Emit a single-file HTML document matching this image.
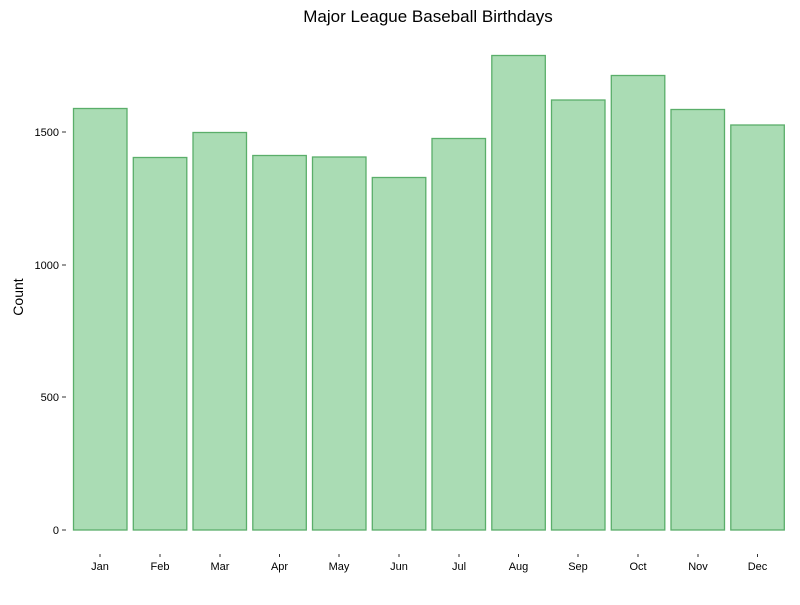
<!DOCTYPE html>
<html><head><style>body{margin:0;background:#fff}</style></head><body>
<svg width="800" height="600" xmlns="http://www.w3.org/2000/svg" font-family="Liberation Sans, sans-serif">
<rect width="800" height="600" fill="#fff"/>
<text x="428" y="22" font-size="17" text-anchor="middle">Major League Baseball Birthdays</text>
<text x="23" y="297" font-size="14" text-anchor="middle" transform="rotate(-90 23 297)">Count</text>
<g font-size="11" text-anchor="end">
<text x="59" y="534">0</text><line x1="62" y1="530" x2="66" y2="530" stroke="#333"/>
<text x="59" y="401">500</text><line x1="62" y1="397" x2="66" y2="397" stroke="#333"/>
<text x="59" y="269">1000</text><line x1="62" y1="265" x2="66" y2="265" stroke="#333"/>
<text x="59" y="136">1500</text><line x1="62" y1="132" x2="66" y2="132" stroke="#333"/>
</g>
<g fill="#aadcb4" stroke="#5aae6a" stroke-width="1.3">
<rect x="73.5" y="108.5" width="53.5" height="421.5"/>
<rect x="133.3" y="157.5" width="53.5" height="372.5"/>
<rect x="193" y="132.5" width="53.5" height="397.5"/>
<rect x="252.8" y="155.5" width="53.5" height="374.5"/>
<rect x="312.5" y="157" width="53.5" height="373"/>
<rect x="372.3" y="177.5" width="53.5" height="352.5"/>
<rect x="432" y="138.5" width="53.5" height="391.5"/>
<rect x="491.8" y="55.5" width="53.5" height="474.5"/>
<rect x="551.5" y="100" width="53.5" height="430"/>
<rect x="611.3" y="75.5" width="53.5" height="454.5"/>
<rect x="671" y="109.5" width="53.5" height="420.5"/>
<rect x="730.8" y="125" width="53.5" height="405"/>
</g>
<g font-size="11" text-anchor="middle">
<text x="100" y="570">Jan</text><text x="160" y="570">Feb</text><text x="220" y="570">Mar</text>
<text x="279.5" y="570">Apr</text><text x="339" y="570">May</text><text x="399" y="570">Jun</text>
<text x="459" y="570">Jul</text><text x="518.5" y="570">Aug</text><text x="578" y="570">Sep</text>
<text x="638" y="570">Oct</text><text x="698" y="570">Nov</text><text x="757.5" y="570">Dec</text>
</g>
<g stroke="#333">
<line x1="100" y1="554" x2="100" y2="557"/><line x1="160" y1="554" x2="160" y2="557"/><line x1="220" y1="554" x2="220" y2="557"/>
<line x1="279.5" y1="554" x2="279.5" y2="557"/><line x1="339" y1="554" x2="339" y2="557"/><line x1="399" y1="554" x2="399" y2="557"/>
<line x1="459" y1="554" x2="459" y2="557"/><line x1="518.5" y1="554" x2="518.5" y2="557"/><line x1="578" y1="554" x2="578" y2="557"/>
<line x1="638" y1="554" x2="638" y2="557"/><line x1="698" y1="554" x2="698" y2="557"/><line x1="757.5" y1="554" x2="757.5" y2="557"/>
</g>
</svg>
</body></html>
